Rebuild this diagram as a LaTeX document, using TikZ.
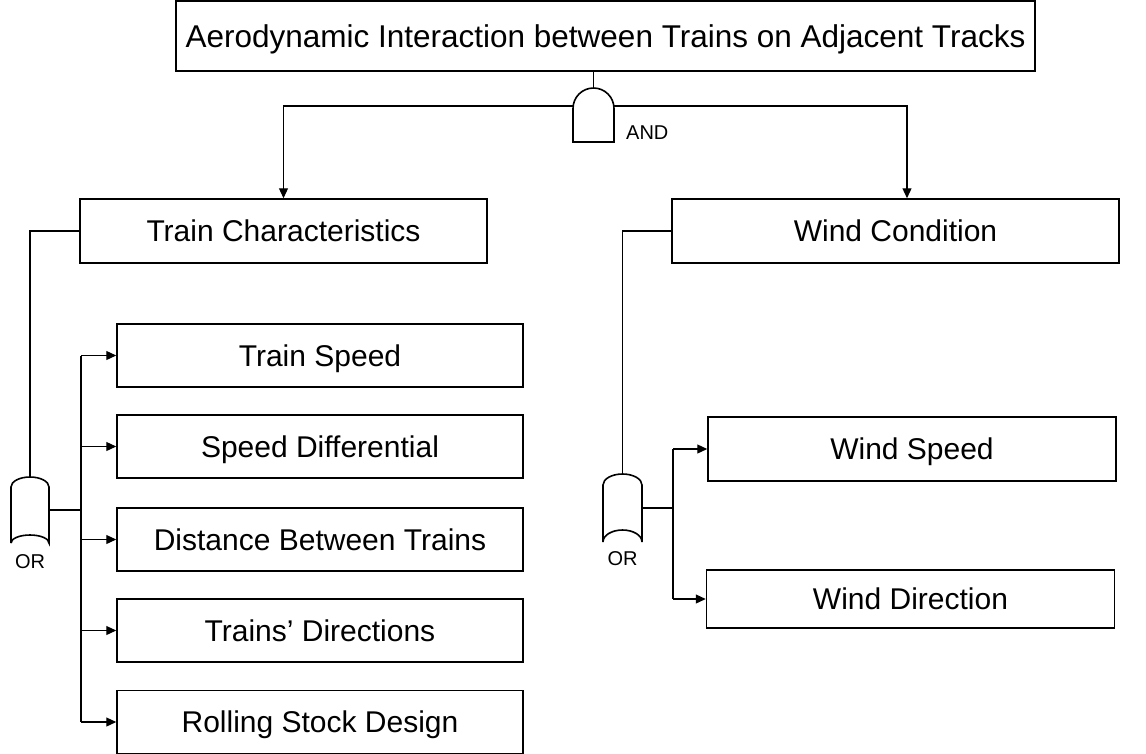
\documentclass[tikz,border=0pt]{standalone}
\usepackage{fontspec}
\setmainfont{Liberation Sans}
\usetikzlibrary{arrows.meta}
\tikzset{
  box/.style={draw, line width=1.5pt, inner sep=0pt, minimum height=63pt,
              text height=21.6pt, text depth=0pt,
              font=\fontsize{30}{34}\selectfont},
  leftbox/.style={box, minimum width=406pt},
  rightbox/.style={box, minimum width=408pt},
  wire/.style={line width=1.2pt},
  arr/.style={wire, -{Triangle[length=10pt,width=9pt]}},
  gate/.style={line width=1.6pt},
  gatelabel/.style={inner sep=0pt, text height=14.4pt, text depth=0pt,
                    font=\fontsize{20}{22}\selectfont}
}
\begin{document}
\begin{tikzpicture}[x=1pt, y=-1pt]
\useasboundingbox (0,0) rectangle (1146,753);

% event boxes
\node[box, minimum width=859pt, minimum height=70pt, text height=22.7pt,
      font=\fontsize{31.5}{36}\selectfont] (top) at (605.5,36)
  {Aerodynamic Interaction between Trains on Adjacent Tracks};
\node[box, minimum width=407pt, minimum height=64pt] (tc) at (283.5,231) {Train Characteristics};
\node[box, minimum width=447pt, minimum height=64pt] (wc) at (895.5,231) {Wind Condition};

\node[leftbox] (ts) at (320,355.5) {Train Speed};
\node[leftbox] (sd) at (320,446.5) {Speed Differential};
\node[leftbox] (db) at (320,539.5) {Distance Between Trains};
\node[leftbox] (td) at (320,630.5) {Trains’ Directions};
\node[leftbox] (rs) at (320,722) {Rolling Stock Design};

\node[rightbox, minimum height=64pt] (ws) at (912,449) {Wind Speed};
\node[rightbox, minimum height=58pt] (wd) at (910.5,599) {Wind Direction};

% AND gate
\draw[gate] (573,142) -- (573,108.5) arc[start angle=180, end angle=0, radius=20.5pt]
  -- (614,142) -- cycle;
\coordinate (andtop) at (593.5,88);
\coordinate (andL) at (573,106);
\coordinate (andR) at (614,106);
\node[gatelabel, anchor=west] (andlbl) at (626,132) {AND};

% OR gate under Train Characteristics
\draw[gate] (11,543) -- (11,487) arc[start angle=180, end angle=0, x radius=19pt, y radius=10pt]
  -- (49,543) arc[start angle=0, end angle=180, x radius=19pt, y radius=8pt];
\coordinate (orLtop) at (30,477);
\coordinate (orLout) at (49,510);
\node[gatelabel] (orLlbl) at (30,561) {OR};

% OR gate under Wind Condition
\draw[gate] (603,542) -- (603,485) arc[start angle=180, end angle=0, x radius=19.5pt, y radius=11pt]
  -- (642,542) arc[start angle=0, end angle=180, x radius=19.5pt, y radius=12pt];
\coordinate (orRtop) at (622.5,474);
\coordinate (orRout) at (642,508);
\node[gatelabel] (orRlbl) at (622.5,558) {OR};

% buses
\coordinate (busL) at (81,0);
\coordinate (busR) at (673,0);
\coordinate (wcin) at (907,0);

% connectors
\draw[wire] (top.south -| andtop) -- (andtop);
\draw[arr] (andL) -| (tc.north);
\draw[arr] (andR) -| (wc.north -| wcin);
\draw[wire] (tc.west) -| (orLtop);
\draw[wire] (wc.west) -| (orRtop);

\draw[wire] (orLout) -- (orLout -| busL);
\draw[wire] (ts.west -| busL) -- (rs.west -| busL);
\foreach \b in {ts,sd,db,td,rs}
  \draw[arr] (\b.west -| busL) -- (\b.west);

\draw[wire] (orRout) -- (orRout -| busR);
\draw[wire] (ws.west -| busR) -- (wd.west -| busR);
\foreach \b in {ws,wd}
  \draw[arr] (\b.west -| busR) -- (\b.west);
\end{tikzpicture}
\end{document}
